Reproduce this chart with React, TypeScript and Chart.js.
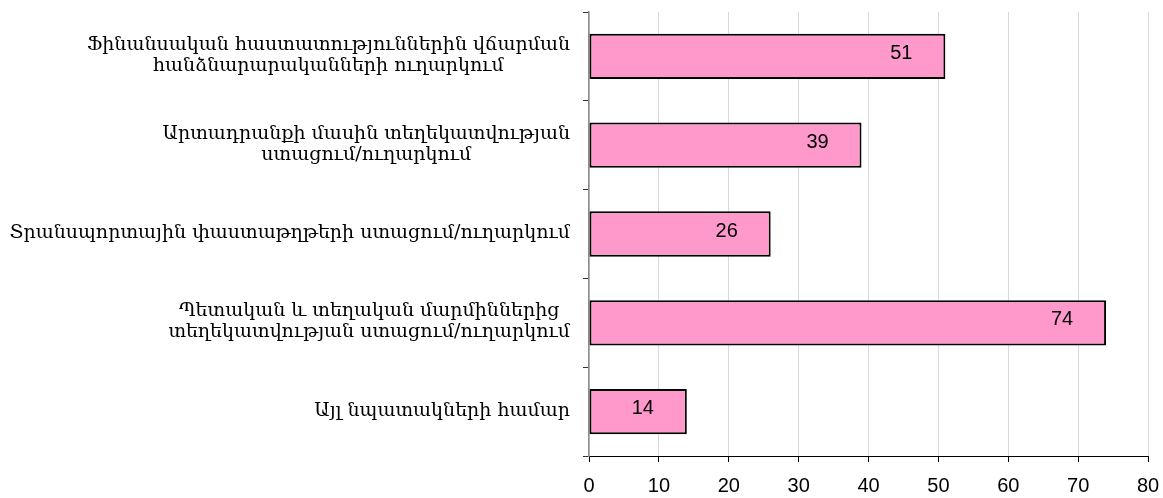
import React, { useEffect, useRef } from "react";
import { Chart, registerables } from "chart.js";

Chart.register(...registerables);

const categories: string[][] = [
  ["Ֆինանսական հաստատություններին վճարման", "հանձնարարականների ուղարկում"],
  ["Արտադրանքի մասին տեղեկատվության", "ստացում/ուղարկում"],
  ["Տրանսպորտային փաստաթղթերի ստացում/ուղարկում"],
  ["Պետական և տեղական մարմիններից", "տեղեկատվության ստացում/ուղարկում"],
  ["Այլ նպատակների համար"],
];
const values: number[] = [51, 39, 26, 74, 14];
const xTickMin = 0;
const xTickMax = 80;
const xTickStep = 10;

const LABEL_FONT_SIZE = 19;
const LABEL_FONT = `${LABEL_FONT_SIZE}px "DejaVu Serif", serif`;
const LABEL_LINE_H = 21;
const VALUE_FONT = '20px "Liberation Sans", Arial, sans-serif';

const categoryLabelsPlugin = {
  id: "categoryLabels",
  afterDraw(chart: any) {
    const { ctx, chartArea, scales } = chart;
    const y = scales.y;
    ctx.save();
    ctx.font = LABEL_FONT;
    ctx.fillStyle = "#000";
    ctx.textBaseline = "middle";
    ctx.textAlign = "center";
    const right = chartArea.left - 19;
    categories.forEach((lines, i) => {
      const widths = lines.map((l) => ctx.measureText(l).width);
      const block = Math.max(...widths);
      const cx = right - block / 2;
      const cy = y.getPixelForValue(i);
      lines.forEach((line, j) => {
        const ly = cy + (j - (lines.length - 1) / 2) * LABEL_LINE_H - 1;
        ctx.fillText(line, cx, ly);
      });
    });
    ctx.restore();
  },
};

const valueLabelsPlugin = {
  id: "valueLabels",
  afterDatasetsDraw(chart: any) {
    const { ctx } = chart;
    const meta = chart.getDatasetMeta(0);
    ctx.save();
    ctx.font = VALUE_FONT;
    ctx.fillStyle = "#000";
    ctx.textAlign = "center";
    ctx.textBaseline = "middle";
    meta.data.forEach((bar: any, i: number) => {
      ctx.fillText(String(values[i]), bar.x - 44, bar.y - 3);
    });
    ctx.restore();
  },
};

export default function App() {
  const ref = useRef<HTMLCanvasElement | null>(null);
  useEffect(() => {
    if (!ref.current) return;
    const chart = new Chart(ref.current, {
      type: "bar",
      data: {
        labels: categories.map((c) => c.join(" ")),
        datasets: [
          {
            data: values,
            backgroundColor: "#ff99cc",
            borderColor: "#000000",
            borderWidth: 2,
            borderSkipped: false,
            barPercentage: 0.51,
            categoryPercentage: 1,
          },
        ],
      },
      options: {
        indexAxis: "y",
        responsive: false,
        animation: false,
        layout: { padding: { top: 12, right: 15, left: 0, bottom: 0 } },
        plugins: {
          legend: { display: false },
          tooltip: { enabled: false },
        },
        scales: {
          x: {
            min: xTickMin,
            max: xTickMax,
            ticks: {
              stepSize: xTickStep,
              color: "#000",
              font: { family: '"Liberation Sans", Arial, sans-serif', size: 20, lineHeight: 2.4 },
              padding: 0,
            },
            grid: {
              color: "#d9d9d9",
              tickColor: "#000",
              tickLength: 6,
              lineWidth: 1,
            },
            border: { color: "#000", width: 1 },
            afterFit: (s: any) => {
              s.height = 42;
            },
          },
          y: {
            type: "category",
            offset: true,
            ticks: { display: false },
            grid: {
              drawOnChartArea: false,
              offset: true,
              tickLength: 6,
              color: "#333",
            },
            border: { color: "#8c8c8c", width: 1.5 },
            afterFit: (s: any) => {
              s.width = 589;
            },
          },
        },
      },
      plugins: [valueLabelsPlugin, categoryLabelsPlugin],
    });
    return () => chart.destroy();
  }, []);
  return (
    <canvas
      ref={ref}
      width={1163}
      height={498}
      style={{ position: "absolute", left: 0, top: 0, width: 1163, height: 498 }}
    />
  );
}
